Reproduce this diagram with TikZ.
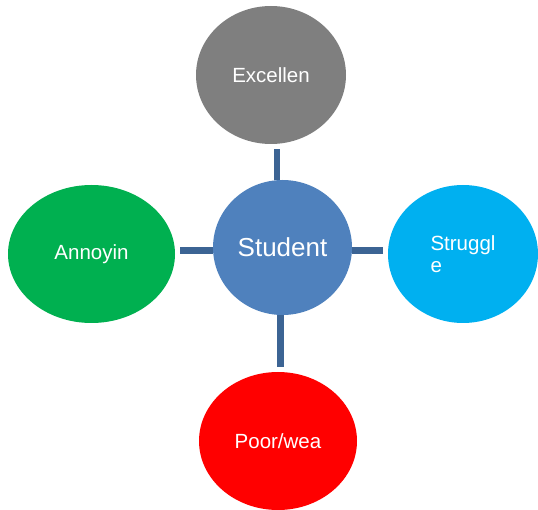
\documentclass[tikz,border=0pt]{standalone}
\usepackage{fontspec}
\setmainfont{Liberation Sans}
\usepackage{xcolor}
\usepackage{tikz}
\usetikzlibrary{shapes,calc}
\definecolor{linkblue}{HTML}{3C6494}
\definecolor{studblue}{HTML}{4F81BD}
\definecolor{excgrey}{HTML}{7F7F7F}
\definecolor{strugcyan}{HTML}{00B0F0}
\definecolor{annogreen}{HTML}{00B050}
\definecolor{poorred}{HTML}{FF0000}
\tikzstyle{bubble} = [ellipse, inner sep=0, text=white, minimum height=138pt, font=\fontsize{20.5}{22}\selectfont]
\tikzstyle{link} = [draw=linkblue, line width=6.5pt, shorten >=5pt]

\begin{document}
\begin{tikzpicture}[auto]
	  \useasboundingbox (0,0) rectangle (538pt,-510pt);
	  \node [bubble, fill=studblue, minimum width=139pt, minimum height=135pt, font=\fontsize{26}{28}\selectfont] (student) at (282.5pt,-247.5pt) {Student};
	  \node [bubble, fill=excgrey, minimum width=150pt, above of=student, node distance=172.5pt, xshift=-11.5pt] (excel) {Excellen};
	  \node [bubble, fill=strugcyan, minimum width=150pt, right of=student, node distance=180.5pt, yshift=-6.5pt, align=left] (strug) {Struggl\\e};
	  \node [bubble, fill=annogreen, minimum width=167pt, left of=student, node distance=191pt, yshift=-6.5pt] (anno) {Annoyin};
	  \node [bubble, fill=poorred, minimum width=158pt, below of=student, node distance=193.5pt, xshift=-4.5pt] (poor) {Poor/wea};
	
	  % connectors sit halfway between the facing edges
	  \coordinate (mtop) at ($(student.north)!0.5!(excel.south)$);
	  \coordinate (mright) at ($(student.east)!0.5!(strug.west)$);
	  \coordinate (mleft) at ($(student.west)!0.5!(anno.east)$);
	  \coordinate (mbot) at ($(student.south)!0.5!(poor.north)$);
	
	  \draw [link] (mtop |- student.north) -- (mtop |- excel.south);
	  \draw [link] (student.east |- mright) -- (strug.west |- mright);
	  \draw [link] (student.west |- mleft) -- (anno.east |- mleft);
	  \draw [link] (mbot |- student.south) -- (mbot |- poor.north);
	\end{tikzpicture}
\end{document}
